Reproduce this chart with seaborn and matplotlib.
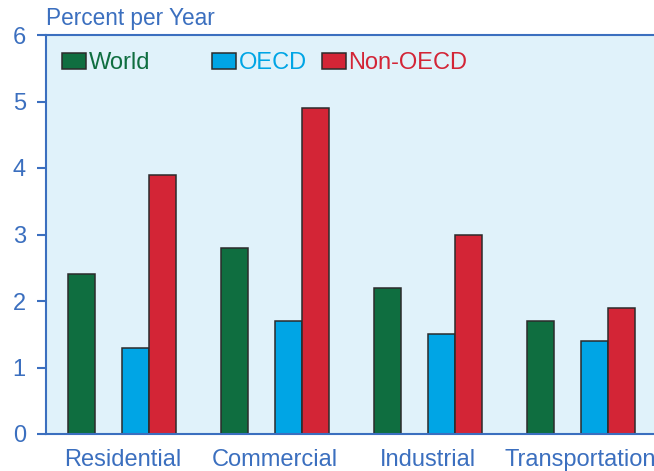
import matplotlib
matplotlib.use("Agg")
import matplotlib.pyplot as plt
from matplotlib.patches import Patch
from matplotlib.legend import Legend
import seaborn as sns
import pandas as pd

categories = ["Residential", "Commercial", "Industrial", "Transportation"]
world = [2.4, 2.8, 2.2, 1.7]
oecd = [1.3, 1.7, 1.5, 1.4]
non_oecd = [3.9, 4.9, 3.0, 1.9]
series_names = ["World", "OECD", "Non-OECD"]
y_ticks = [0, 1, 2, 3, 4, 5, 6]
y_label = "Percent per Year"

colors = {"World": "#0f6e40", "OECD": "#00a5e5", "Non-OECD": "#d32536", "_gap": "#000000"}
axis_blue = "#3b6fbf"
bg = "#e0f2fa"

rows = []
for i, c in enumerate(categories):
    rows.append((c, "World", world[i]))
    rows.append((c, "_gap", 0.0))
    rows.append((c, "OECD", oecd[i]))
    rows.append((c, "Non-OECD", non_oecd[i]))
df = pd.DataFrame(rows, columns=["category", "series", "value"])
hue_order = ["World", "_gap", "OECD", "Non-OECD"]

sns.set_style("white")
plt.rcParams["font.family"] = ["Liberation Sans", "DejaVu Sans"]

fig = plt.figure(figsize=(6.54, 4.71), dpi=100)
ax = fig.add_axes([46 / 654, 37 / 471, 608 / 654, 399 / 471])
ax.set_facecolor(bg)

sns.barplot(data=df, x="category", y="value", hue="series", hue_order=hue_order,
            order=categories, palette=colors, width=0.706, gap=0,
            edgecolor="#2b2b2b", linewidth=1.1, saturation=1, legend=False, ax=ax,
            errorbar=None)

# hide the spacer slot
for bar in ax.containers[1]:
    bar.set_visible(False)

ax.set_xlim(-0.5, 3.48)
ax.set_ylim(0, 6)
ax.set_yticks(y_ticks)
ax.set_xlabel("")
ax.set_ylabel("")

for side in ["left", "top", "bottom"]:
    ax.spines[side].set_color(axis_blue)
    ax.spines[side].set_linewidth(1.5)
ax.spines["right"].set_visible(False)

ax.tick_params(axis="y", direction="out", length=6.5, width=1.5, color=axis_blue,
               labelcolor=axis_blue, labelsize=17, pad=8, left=True)
ax.tick_params(axis="x", length=0, labelcolor=axis_blue, labelsize=17, pad=11)

ax.text(0, 1.025, y_label, transform=ax.transAxes, ha="left", va="baseline",
        color=axis_blue, fontsize=16.3)

legend_x = [0.0263, 0.273, 0.454]
for name, lx in zip(series_names, legend_x):
    h = Patch(facecolor=colors[name], edgecolor="#2b2b2b", linewidth=1.1)
    leg = Legend(ax, [h], [name], loc="center left", bbox_to_anchor=(lx, 0.93),
                 bbox_transform=ax.transAxes, frameon=False, fontsize=17,
                 handlelength=1.02, handleheight=0.68, handletextpad=0.1,
                 borderpad=0, borderaxespad=0)
    for t in leg.get_texts():
        t.set_color(colors[name])
    ax.add_artist(leg)

fig.savefig("out.png", dpi=100)
